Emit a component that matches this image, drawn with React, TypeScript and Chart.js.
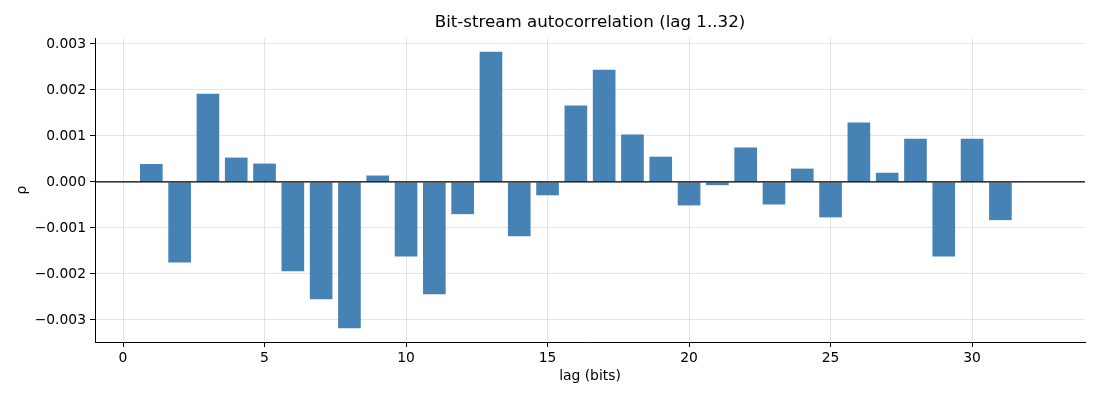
import { useEffect, useRef } from "react";
import { Chart, registerables } from "chart.js";

Chart.register(...registerables);

const lags = [
  1, 2, 3, 4, 5, 6, 7, 8, 9, 10, 11, 12, 13, 14, 15, 16, 17, 18, 19, 20, 21,
  22, 23, 24, 25, 26, 27, 28, 29, 30, 31, 32,
];
const rho = [
  0.00039, -0.00175, 0.00192, 0.00053, 0.0004, -0.00194, -0.00255, -0.00318,
  0.00014, -0.00162, -0.00244, -0.0007, 0.00283, -0.00118, -0.00029, 0.00166,
  0.00244, 0.00103, 0.00055, -0.00051, -0.00007, 0.00075, -0.00049, 0.00029,
  -0.00077, 0.00129, 0.0002, 0.00094, -0.00162, 0.00094, -0.00083, 0.0,
];
const xTicks = [0, 5, 10, 15, 20, 25, 30];
const yTicks = [-0.003, -0.002, -0.001, 0, 0.001, 0.002, 0.003];
const xRange = [-0.99, 33.99];
const yRange = [-0.00348, 0.00313];
const TITLE = "Bit-stream autocorrelation (lag 1..32)";

const FONT = "'DejaVu Sans', sans-serif";
const GRID = "rgba(0,0,0,0.1)";

// title centred over the plot area, like matplotlib does
const axesTitle = {
  id: "axesTitle",
  afterDraw(chart: Chart) {
    const { ctx, chartArea } = chart;
    ctx.save();
    ctx.font = `16.67px ${FONT}`;
    ctx.fillStyle = "#000000";
    ctx.textAlign = "center";
    ctx.textBaseline = "middle";
    ctx.fillText(TITLE, (chartArea.left + chartArea.right) / 2, 23);
    ctx.restore();
  },
};

export default function App() {
  const canvasRef = useRef<HTMLCanvasElement>(null);
  const chartRef = useRef<Chart | null>(null);

  useEffect(() => {
    document.body.style.margin = "0";
    const canvas = canvasRef.current;
    if (!canvas) return;
    chartRef.current?.destroy();

    chartRef.current = new Chart(canvas, {
      type: "bar",
      data: {
        datasets: [
          {
            type: "line",
            data: xRange.map((x) => ({ x, y: 0 })),
            borderColor: "#000000",
            borderWidth: 1.2,
            pointRadius: 0,
            order: 0,
          } as any,
          {
            type: "bar",
            data: lags.map((x, i) => ({ x, y: rho[i] })),
            backgroundColor: "#4682b4",
            barPercentage: 0.8,
            categoryPercentage: 1.0,
            order: 1,
          },
        ],
      },
      options: {
        animation: false,
        responsive: true,
        maintainAspectRatio: false,
        layout: { padding: { top: 38, right: 15, bottom: 0, left: 0 } },
        plugins: {
          legend: { display: false },
          tooltip: { enabled: false },
          title: { display: false },
        },
        scales: {
          x: {
            type: "linear",
            min: xRange[0],
            max: xRange[1],
            offset: false,
            z: 1,
            afterBuildTicks: (s: any) => {
              s.ticks = xTicks.map((v) => ({ value: v }));
            },
            afterFit: (s: any) => {
              s.height = 58;
            },
            grid: {
              offset: false,
              color: GRID,
              tickColor: "#000000",
              tickLength: 5,
            },
            border: { display: true, color: "#000000", width: 1 },
            ticks: {
              color: "#000000",
              font: { family: FONT, size: 13.89 },
              padding: 3,
              maxRotation: 0,
              callback: (v: any) => String(v),
            },
            title: {
              display: true,
              text: "lag (bits)",
              color: "#000000",
              font: { family: FONT, size: 13.89 },
              padding: { top: 0, bottom: 15 },
            },
          },
          y: {
            type: "linear",
            min: yRange[0],
            max: yRange[1],
            z: 1,
            afterBuildTicks: (s: any) => {
              s.ticks = yTicks.map((v) => ({ value: v }));
            },
            afterFit: (s: any) => {
              s.width = 95;
            },
            grid: {
              color: GRID,
              tickColor: "#000000",
              tickLength: 5,
            },
            border: { display: true, color: "#000000", width: 1 },
            ticks: {
              color: "#000000",
              font: { family: FONT, size: 13.89 },
              padding: 4,
              callback: (v: any) => Number(v).toFixed(3).replace("-", "\u2212"),
            },
            title: {
              display: true,
              text: "ρ",
              color: "#000000",
              font: { family: FONT, size: 13.89 },
              padding: { top: 14, bottom: 0 },
            },
          },
        },
      },
      plugins: [axesTitle],
    });

    return () => {
      chartRef.current?.destroy();
      chartRef.current = null;
    };
  }, []);

  return (
    <div style={{ width: 1100, height: 400, position: "relative", background: "#ffffff" }}>
      <canvas ref={canvasRef} />
    </div>
  );
}
